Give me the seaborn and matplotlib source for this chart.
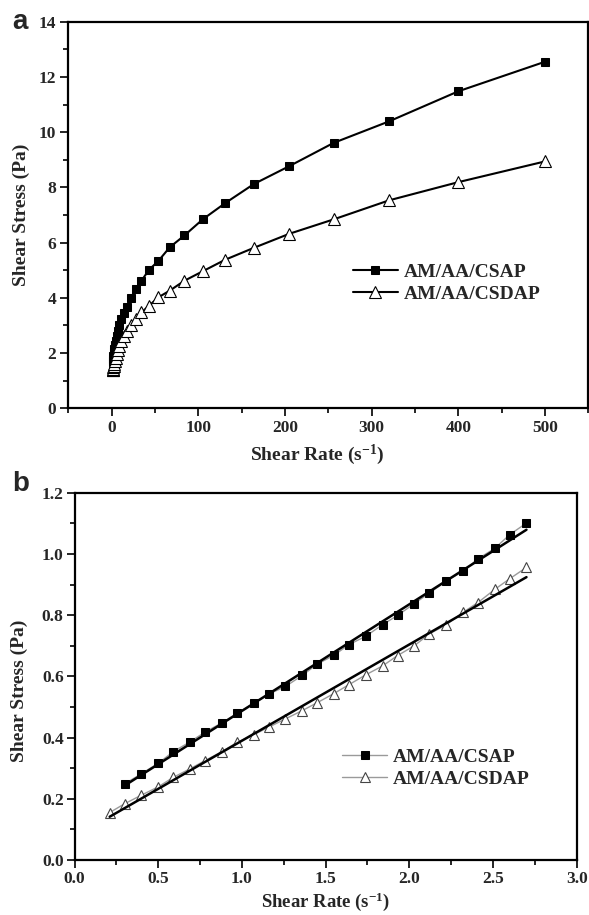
import numpy as np
import pandas as pd
import matplotlib
matplotlib.use("Agg")
import matplotlib.pyplot as plt
import seaborn as sns
from matplotlib.ticker import MultipleLocator, FormatStrFormatter

sns.set_theme(style="white")
plt.rcParams["font.family"] = ["Liberation Serif", "DejaVu Serif"]
plt.rcParams["font.weight"] = "bold"
plt.rcParams["axes.labelweight"] = "bold"
plt.rcParams["mathtext.fontset"] = "custom"
plt.rcParams["mathtext.rm"] = "Liberation Serif:bold"
plt.rcParams["mathtext.bf"] = "Liberation Serif:bold"
plt.rcParams["mathtext.default"] = "bf"

# ---- panel a: flow curves over the full shear-rate range ----
rate_a = [500, 400, 320, 256, 205, 164, 131, 105, 84, 67, 54, 43, 34.4, 27.5,
          22, 17.6, 14.1, 11.3, 9.0, 7.2, 5.8, 4.6, 3.7, 3.0, 2.4, 1.9, 1.5,
          1.2, 1.0]
csap_a = [12.55, 11.48, 10.39, 9.61, 8.77, 8.12, 7.43, 6.84, 6.26, 5.83, 5.34,
          5.01, 4.62, 4.31, 3.98, 3.67, 3.44, 3.22, 3.00, 2.80, 2.62, 2.45,
          2.30, 2.15, 2.02, 1.90, 1.80, 1.70, 1.62]
csdap_a = [8.94, 8.19, 7.53, 6.84, 6.32, 5.81, 5.38, 4.96, 4.62, 4.26, 4.02,
           3.71, 3.47, 3.23, 3.01, 2.81, 2.63, 2.44, 2.27, 2.10, 1.96, 1.83,
           1.72, 1.62, 1.54, 1.48, 1.44, 1.40, 1.37]

# ---- panel b: low shear-rate region with linear fits ----
rate_b_csap = [0.30, 0.40, 0.50, 0.59, 0.69, 0.78, 0.88, 0.97, 1.07, 1.16,
               1.26, 1.36, 1.45, 1.55, 1.64, 1.74, 1.84, 1.93, 2.03, 2.12,
               2.22, 2.32, 2.41, 2.51, 2.60, 2.70]
csap_b = [0.249, 0.282, 0.316, 0.354, 0.386, 0.418, 0.448, 0.479, 0.512, 0.542,
          0.567, 0.603, 0.640, 0.669, 0.704, 0.731, 0.769, 0.799, 0.838, 0.872,
          0.911, 0.943, 0.984, 1.018, 1.063, 1.101]
rate_b_csdap = [0.21, 0.30, 0.40, 0.50, 0.59, 0.69, 0.78, 0.88, 0.97, 1.07,
                1.16, 1.26, 1.36, 1.45, 1.55, 1.64, 1.74, 1.84, 1.93, 2.03,
                2.12, 2.22, 2.32, 2.41, 2.51, 2.60, 2.70]
csdap_b = [0.155, 0.184, 0.212, 0.239, 0.270, 0.298, 0.325, 0.354, 0.384, 0.409,
           0.434, 0.461, 0.488, 0.514, 0.544, 0.573, 0.605, 0.634, 0.668, 0.700,
           0.739, 0.768, 0.809, 0.841, 0.884, 0.919, 0.956]

labels = ["AM/AA/CSAP", "AM/AA/CSDAP"]

fig = plt.figure(figsize=(5.89, 9.15), dpi=100)
ax_a = fig.add_axes([0.116, 0.5538, 0.883, 0.4225])
ax_b = fig.add_axes([0.1265, 0.0601, 0.8526, 0.4014])

legend_font = {"family": "Liberation Serif", "weight": "bold", "size": 14}


def style_axes(ax, pad=3):
    for s in ax.spines.values():
        s.set_linewidth(1.6)
        s.set_color("black")
    ax.tick_params(which="major", direction="out", length=5.8, width=1.2,
                   pad=pad, labelsize=12.5, color="black", bottom=True,
                   left=True, top=False, right=False)
    ax.tick_params(which="minor", direction="out", length=3.6, width=1.2,
                   color="black", bottom=True, left=True, top=False, right=False)
    for lab in ax.get_xticklabels() + ax.get_yticklabels():
        lab.set_fontweight("bold")


# panel a
sns.lineplot(x=rate_a, y=csap_a, ax=ax_a, color="black", lw=1.5, marker="s",
             markersize=6, markerfacecolor="black", markeredgecolor="black",
             label=labels[0])
sns.lineplot(x=rate_a, y=csdap_a, ax=ax_a, color="black", lw=1.5, marker="^",
             markersize=8, markerfacecolor="white", markeredgecolor="black",
             markeredgewidth=0.8, label=labels[1])
ax_a.set_xlim(-50, 550)
ax_a.set_ylim(0, 14)
ax_a.xaxis.set_major_locator(MultipleLocator(100))
ax_a.xaxis.set_minor_locator(MultipleLocator(50))
ax_a.yaxis.set_major_locator(MultipleLocator(2))
ax_a.yaxis.set_minor_locator(MultipleLocator(1))
ax_a.set_xlabel(r"Shear Rate (s$^{-1}$)", fontsize=14, fontweight="bold")
ax_a.set_ylabel("Shear Stress (Pa)", fontsize=14, fontweight="bold")
ax_a.xaxis.set_label_coords(0.478, -0.09)
ax_a.yaxis.set_label_coords(-0.074, 0.5)
style_axes(ax_a)
ax_a.legend(loc="center left", bbox_to_anchor=(0.547, 0.324), frameon=False,
            borderaxespad=0, borderpad=0, handlelength=2.3, handletextpad=0.3,
            labelspacing=0.2, prop=legend_font)

# panel b
sns.lineplot(x=rate_b_csap, y=csap_b, ax=ax_b, color="#9a9a9a", lw=1.0,
             marker="s", markersize=5.4, markerfacecolor="black",
             markeredgecolor="black", label=labels[0])
sns.lineplot(x=rate_b_csdap, y=csdap_b, ax=ax_b, color="#9a9a9a", lw=1.0,
             marker="^", markersize=7, markerfacecolor="white",
             markeredgecolor="#444444", markeredgewidth=0.8, label=labels[1])
sns.regplot(x=np.array(rate_b_csap), y=np.array(csap_b), ax=ax_b,
            scatter=False, ci=None, color="black", line_kws={"lw": 1.8})
sns.regplot(x=np.array(rate_b_csdap), y=np.array(csdap_b), ax=ax_b,
            scatter=False, ci=None, color="black", line_kws={"lw": 1.8})
ax_b.set_xlim(0, 3.0)
ax_b.set_ylim(0, 1.2)
ax_b.xaxis.set_major_locator(MultipleLocator(0.5))
ax_b.xaxis.set_minor_locator(MultipleLocator(0.25))
ax_b.yaxis.set_major_locator(MultipleLocator(0.2))
ax_b.yaxis.set_minor_locator(MultipleLocator(0.1))
ax_b.xaxis.set_major_formatter(FormatStrFormatter("%.1f"))
ax_b.yaxis.set_major_formatter(FormatStrFormatter("%.1f"))
ax_b.set_xlabel(r"Shear Rate (s$^{-1}$)", fontsize=13.5, fontweight="bold")
ax_b.set_ylabel("Shear Stress (Pa)", fontsize=14, fontweight="bold")
ax_b.xaxis.set_label_coords(0.5, -0.084)
ax_b.yaxis.set_label_coords(-0.092, 0.462)
style_axes(ax_b, pad=2)
hb, lb = ax_b.get_legend_handles_labels()
ax_b.legend(hb[:2], lb[:2], loc="center left", bbox_to_anchor=(0.533, 0.25),
            frameon=False, borderaxespad=0, borderpad=0, handlelength=2.3,
            handletextpad=0.3, labelspacing=0.2, prop=legend_font)

# panel letters
fig.text(12 / 589, 1 - 22 / 915, "a", fontsize=20, fontweight="bold",
         family="Liberation Sans", va="center", ha="left")
fig.text(12 / 589, 1 - 484 / 915, "b", fontsize=20, fontweight="bold",
         family="Liberation Sans", va="center", ha="left")

fig.savefig("out.png", dpi=100, facecolor="white")
